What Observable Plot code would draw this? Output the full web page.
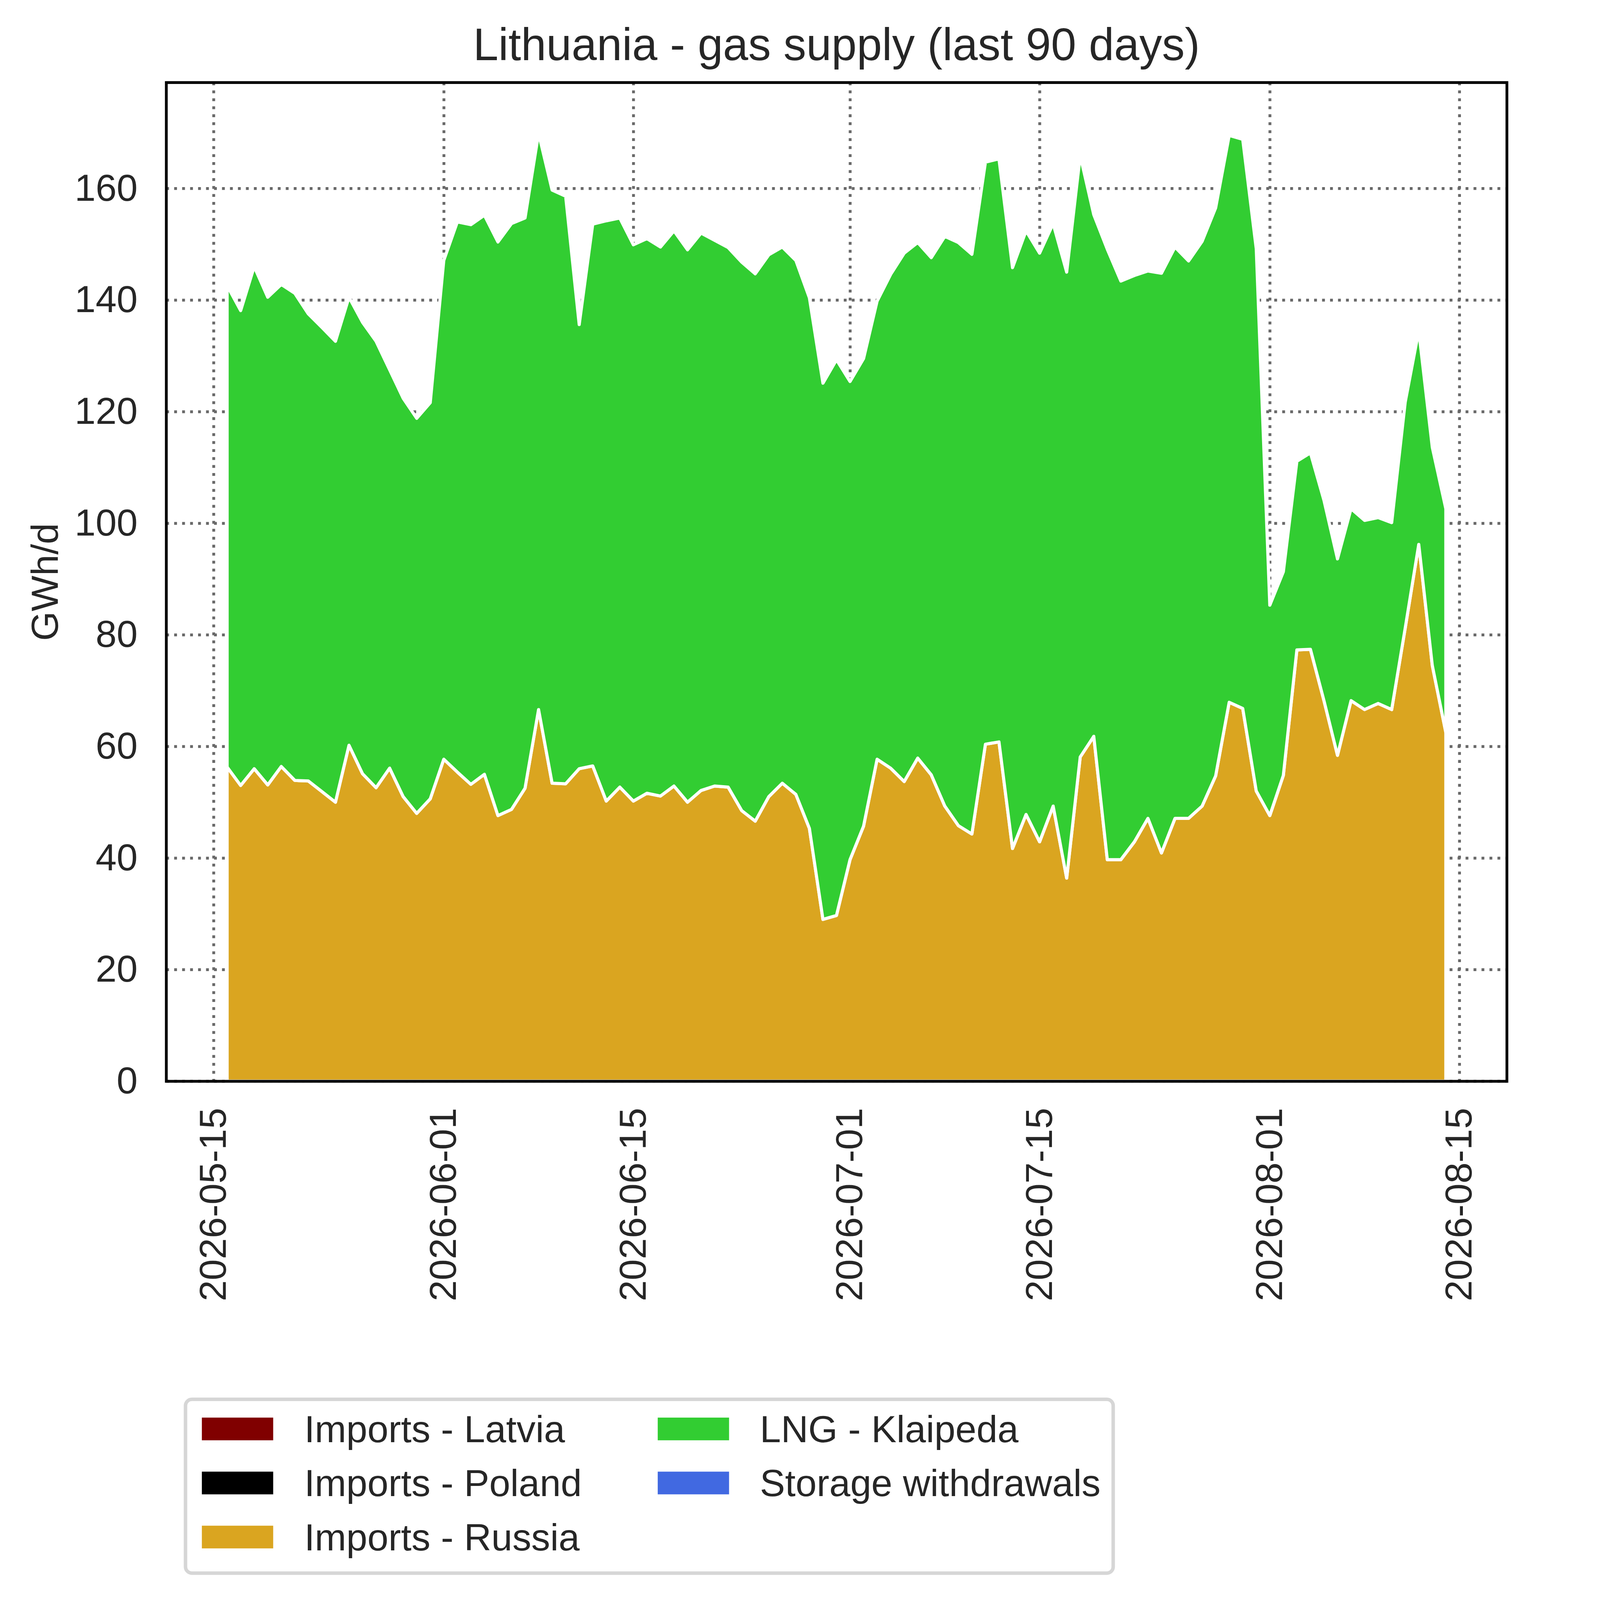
<!DOCTYPE html>
<html>
<head>
<meta charset="utf-8">
<script src="https://cdn.jsdelivr.net/npm/d3@7"></script>
<script src="https://cdn.jsdelivr.net/npm/@observablehq/plot@0.6"></script>
<style>
  html, body { margin: 0; padding: 0; background: #ffffff; overflow: hidden; }
  #wrap { position: absolute; left: 0; top: 0; width: 5675px; height: 5921px; background: #ffffff; font-family: "Liberation Sans", Arial, sans-serif; color: #262626; transform-origin: 0 0; }
  #chart { position: absolute; left: 0; top: 0; }
  .title { position: absolute; top: 80px; left: 3095.5px; transform: translateX(-50%); font-size: 168px; line-height: 168px; white-space: nowrap; }
  .legend { position: absolute; left: 680px; top: 5172px; width: 3446px; height: 656px; box-sizing: border-box; border: 13px solid #d6d6d6; border-radius: 30px; background: #ffffff; }
  .sw { position: absolute; height: 84px; }
  .lt { position: absolute; font-size: 140px; line-height: 140px; white-space: nowrap; }
</style>
</head>
<body>
<div id="wrap">
  <div id="chart"></div>
  <div class="title" id="title"></div>
  <div id="legendHost"></div>
</div>
<script>
const chartTitle = "Lithuania - gas supply (last 90 days)";
const yLabel = "GWh/d";
const seriesNames = ["Imports - Latvia", "Imports - Poland", "Imports - Russia", "LNG - Klaipeda", "Storage withdrawals"];
const seriesColors = ["#800000", "#000000", "#DAA520", "#32CD32", "#4169E1"];

// daily dates 2026-05-16 .. 2026-08-14
const dates = d3.utcDay.range(new Date(Date.UTC(2026, 4, 16)), new Date(Date.UTC(2026, 7, 15)));

const importsRussia = [
  56.3, 53.0, 56.0, 53.1, 56.4, 53.9, 53.8, 51.9, 50.0, 60.2,
  55.1, 52.6, 56.1, 51.0, 48.0, 50.6, 57.7, 55.4, 53.2, 55.0,
  47.6, 48.7, 52.5, 66.6, 53.4, 53.3, 56.0, 56.5, 50.2, 52.7,
  50.2, 51.6, 51.1, 52.9, 50.0, 52.1, 52.9, 52.7, 48.5, 46.6,
  51.0, 53.4, 51.4, 45.3, 29.0, 29.7, 39.7, 45.7, 57.7, 56.1,
  53.7, 57.9, 54.9, 49.3, 45.8, 44.3, 60.4, 60.8, 41.7, 47.8,
  42.9, 49.3, 36.4, 58.1, 61.8, 39.7, 39.7, 42.9, 47.1, 40.9,
  47.1, 47.1, 49.3, 54.7, 67.9, 66.8, 52.0, 47.6, 54.8, 77.3,
  77.4, 68.2, 58.4, 68.2, 66.6, 67.7, 66.6, 81.2, 96.2, 74.5,
  62.5
];

const lngKlaipeda = [
  86.3, 85.1, 90.0, 87.4, 86.4, 87.3, 83.7, 83.2, 82.6, 80.3,
  80.9, 80.0, 71.4, 71.4, 70.8, 71.0, 89.4, 98.6, 100.3, 100.2,
  102.8, 105.0, 102.2, 103.3, 106.3, 105.3, 79.6, 97.1, 104.0, 102.0,
  99.7, 99.4, 98.4, 99.5, 99.0, 99.9, 97.8, 96.7, 98.3, 98.1,
  97.1, 96.1, 95.7, 95.1, 96.1, 99.6, 85.7, 83.8, 82.1, 88.5,
  94.7, 92.4, 92.7, 102.1, 104.5, 103.9, 104.3, 104.5, 104.1, 104.6,
  105.5, 104.4, 108.6, 107.8, 93.5, 109.4, 103.7, 101.5, 98.1, 103.9,
  102.4, 99.9, 101.2, 101.8, 101.6, 102.0, 97.2, 37.7, 36.5, 33.8,
  35.2, 35.9, 35.2, 34.4, 33.9, 33.3, 33.5, 40.5, 38.3, 39.1,
  40.1
];

const yTicks = [0, 20, 40, 60, 80, 100, 120, 140, 160];
const xTickLabels = ["2026-05-15", "2026-06-01", "2026-06-15", "2026-07-01", "2026-07-15", "2026-08-01", "2026-08-15"];
const xTicks = xTickLabels.map(s => new Date(s + "T00:00:00Z"));

const rows = [];
[["Imports - Russia", importsRussia], ["LNG - Klaipeda", lngKlaipeda]].forEach(([name, vals]) => {
  vals.forEach((v, i) => rows.push({date: dates[i], series: name, value: v}));
});

const gridStyle = {stroke: "#696969", strokeOpacity: 1, strokeWidth: 10.5, strokeDasharray: "10.5,19"};

const chart = Plot.plot({
  width: 5675,
  height: 4900,
  marginLeft: 615,
  marginRight: 99,
  marginTop: 305,
  marginBottom: 899,
  style: {fontFamily: "'Liberation Sans', Arial, sans-serif", fontSize: "140px", color: "#262626", background: "#ffffff", overflow: "visible", maxWidth: "none"},
  x: {type: "utc", domain: [new Date("2026-05-11T12:00:00Z"), new Date("2026-08-18T12:00:00Z")]},
  y: {domain: [0, 179]},
  color: {domain: seriesNames, range: seriesColors},
  marks: [
    Plot.gridX(xTicks, gridStyle),
    Plot.gridY(yTicks, gridStyle),
    Plot.areaY(rows, {x: "date", y: "value", fill: "series", order: seriesNames, stroke: "#ffffff", strokeWidth: 11.5, strokeLinejoin: "round"}),
    Plot.axisX(xTicks, {tickSize: 0, tickPadding: 98, tickRotate: -90, tickFormat: d3.utcFormat("%Y-%m-%d"), label: null, fill: "#262626"}),
    Plot.axisY(yTicks, {tickSize: 0, tickPadding: 106, label: null, fill: "#262626"}),
    Plot.text([yLabel], {frameAnchor: "left", dx: -447, rotate: -90, textAnchor: "middle", lineAnchor: "middle", text: d => d, fill: "#262626", fontSize: 140}),
    Plot.frame({stroke: "#000000", strokeWidth: 10.3})
  ]
});
document.getElementById("chart").appendChild(chart);
document.getElementById("title").textContent = chartTitle;

// legend (2 columns, column-major like the reference)
const host = document.getElementById("legendHost");
const box = document.createElement("div");
box.className = "legend";
host.appendChild(box);
const swLeft = [747, 2434];
const txtLeft = [1126, 2812];
const rowTop = [5246, 5446, 5646];
const rowBase = [5337, 5537, 5737];
seriesNames.forEach((name, i) => {
  const col = i < 3 ? 0 : 1;
  const row = i < 3 ? i : i - 3;
  const sw = document.createElement("div");
  sw.className = "sw";
  sw.style.left = swLeft[col] + "px";
  sw.style.width = "264px";
  sw.style.top = rowTop[row] + "px";
  sw.style.background = seriesColors[i];
  host.appendChild(sw);
  const t = document.createElement("div");
  t.className = "lt";
  t.style.left = txtLeft[col] + "px";
  t.style.top = (rowBase[row] - 118.5) + "px";
  t.textContent = name;
  host.appendChild(t);
});

// fit the 5675x5921 figure to the actual viewport
function fit() {
  const w = document.documentElement.clientWidth || window.innerWidth;
  const h = document.documentElement.clientHeight || window.innerHeight;
  const s = Math.min(w / 5675, h / 5921);
  document.getElementById("wrap").style.transform = "scale(" + s + ")";
}
fit();
window.addEventListener("resize", fit);
</script>
</body>
</html>
